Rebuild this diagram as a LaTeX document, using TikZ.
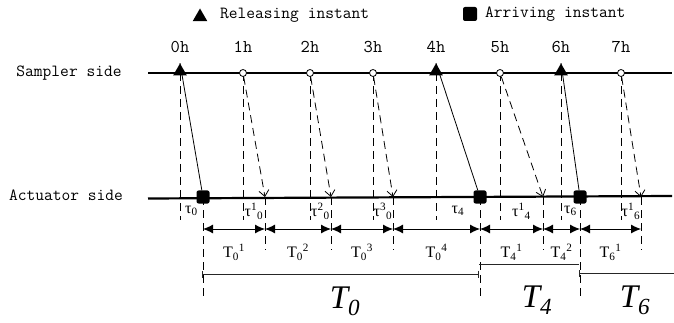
\documentclass[tikz,border=0pt]{standalone}
\usepackage{fontspec}
\setmainfont{Liberation Serif}
\usetikzlibrary{arrows.meta,shapes.geometric}

\tikzset{
  release/.style={regular polygon, regular polygon sides=3, fill=black, inner sep=0pt, minimum size=16pt},
  arrive/.style={rectangle, rounded corners=2pt, fill=black, inner sep=0pt, minimum size=13pt},
  sample/.style={circle, draw, fill=white, inner sep=0pt, minimum size=7pt, line width=0.8pt},
  guide/.style={dash pattern=on 8pt off 5pt, line width=0.8pt},
  monotext/.style={font=\ttfamily\fontsize{17}{17}\selectfont, inner sep=0pt},
  hourtext/.style={font=\ttfamily\fontsize{18}{18}\selectfont, inner sep=0pt},
  tautext/.style={font=\fontsize{16}{16}\selectfont, inner sep=0pt},
  periodtext/.style={font=\fontsize{16}{16}\selectfont, inner sep=0pt},
  bigtext/.style={font=\fontsize{33}{33}\selectfont\itshape, inner sep=0pt},
  span/.style={line width=0.9pt, {Latex[length=10pt,width=9pt]}-{Latex[length=10pt,width=9pt]}},
  bracket/.style={line width=1pt, black!85}
}

\begin{document}
\begin{tikzpicture}[x=1pt, y=-1pt]
  \useasboundingbox (0,0) rectangle (674,323);

  % legend
  \node[release, minimum size=17pt] (legtri) at (200,17) {};
  \node[monotext, anchor=west] (legrel) at (220,15) {Releasing instant};
  \node[arrive, minimum size=14pt] (legsq) at (470,14) {};
  \node[monotext, anchor=west] (legarr) at (485,14) {Arriving instant};

  % time axes
  \node[monotext] (samp) at (69,73) {Sampler side};
  \node[monotext] (act) at (66,195) {Actuator side};
  \coordinate (sL) at (148,73);
  \coordinate (sR) at (672,73);
  \coordinate (aL) at (148,198.5);
  \coordinate (aR) at (672,196);
  \draw[line width=2.2pt] (sL) -- (sR);
  \draw[line width=2.2pt] (aL) -- (aR);

  % sampling and arriving instants
  \foreach \i/\x/\a/\e/\lbl in {0/180/203/297/{τ\textsubscript{0}},
      1/243/265/250/{τ\textsuperscript{1}\textsubscript{0}},
      2/310/331/250/{τ\textsuperscript{2}\textsubscript{0}},
      3/373/393/250/{τ\textsuperscript{3}\textsubscript{0}},
      4/436/480/297/{τ\textsubscript{4}},
      5/500/543/250/{τ\textsuperscript{1}\textsubscript{4}},
      6/561/580/297/{τ\textsubscript{6}},
      7/621/641/250/{τ\textsuperscript{1}\textsubscript{6}}}{
    \coordinate (s\i) at (\x,73);
    \coordinate (g\i) at (\x,220);
    \coordinate (a\i) at (\a,197);
    \coordinate (b\i) at (\a,\e);
    \coordinate (d\i) at (\a,229);
    \node[hourtext] (h\i) at (\x,47) {\i h};
    \node[tautext] (tau\i) at ({(\x+\a)/2},211) {\lbl};
    \draw[guide] (s\i) -- (g\i);
    \draw[guide] (a\i) -- (b\i);
  }

  % event-triggered transmissions
  \foreach \i in {0,4,6}{
    \node[release] (t\i) at ([yshift=1.5pt]s\i) {};
    \node[arrive] (q\i) at (a\i) {};
    \draw[line width=0.8pt] (t\i.corner 1) -- (q\i);
  }
  \foreach \i in {1,2,3,5,7}{
    \node[sample] (c\i) at (s\i) {};
    \draw[guide, -{Straight Barb[length=6pt,width=10pt]}] (c\i) -- (a\i);
  }

  % inter-arrival intervals
  \foreach \i/\j/\per in {0/1/{T\textsubscript{0}\textsuperscript{1}},
      1/2/{T\textsubscript{0}\textsuperscript{2}},
      2/3/{T\textsubscript{0}\textsuperscript{3}},
      3/4/{T\textsubscript{0}\textsuperscript{4}},
      4/5/{T\textsubscript{4}\textsuperscript{1}},
      5/6/{T\textsubscript{4}\textsuperscript{2}},
      6/7/{T\textsubscript{6}\textsuperscript{1}}}{
    \draw[span] (d\i) -- (d\j) node[periodtext, midway, yshift=-23pt] (p\j) {\per};
  }

  % holding periods
  \coordinate (k0) at (202,274);
  \coordinate (k4a) at (479,274);
  \coordinate (k4b) at (479,264);
  \coordinate (k6a) at (579,264);
  \coordinate (k6b) at (579,273);
  \coordinate (kend) at (674,273);
  \draw[bracket, {Bar[width=7pt]}-{Bar[width=7pt]}] (k0) -- (k4a);
  \draw[bracket] (k4b) -- (k6a);
  \draw[bracket, {Bar[width=7pt]}-] (k6b) -- (kend);
  \node[bigtext] (T0) at (345,301) {T\textsubscript{0}};
  \node[bigtext] (T4) at (537,300) {T\textsubscript{4}};
  \node[bigtext] (T6) at (635,300) {T\textsubscript{6}};
\end{tikzpicture}
\end{document}
